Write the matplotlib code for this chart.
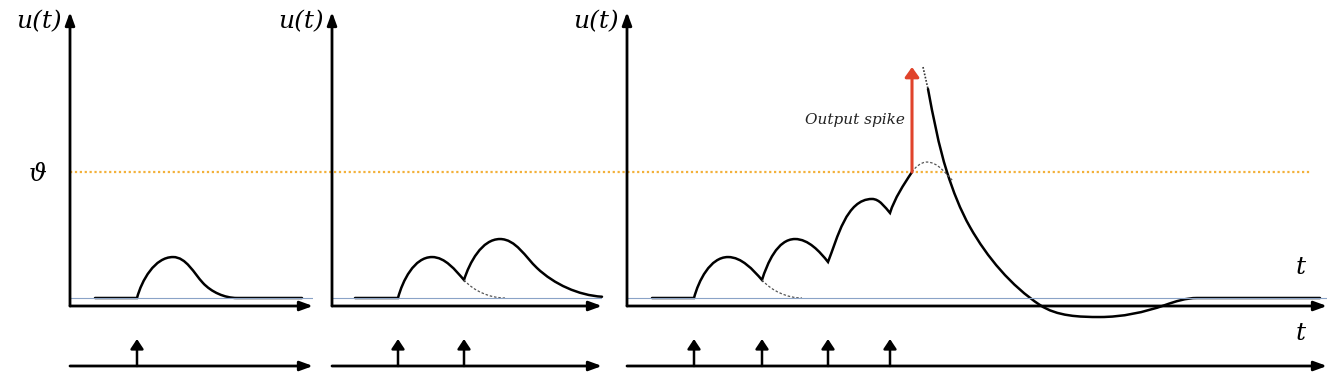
import numpy as np
import matplotlib
matplotlib.use('Agg')

import matplotlib.pyplot as plt
from matplotlib.path import Path
from matplotlib.patches import PathPatch

# input spike times (ms) for the three cases
spikes_1 = [6.7]
spikes_2 = [6.6, 13.2]
spikes_3 = [6.7, 13.5, 20.1, 26.3]
t_end = [24.3, 27.0, 70.0]

theta = 1.0        # firing threshold (u = 0 is resting potential)
spike_top = 1.833  # height drawn for the output spike

# membrane potential: pieces of (t, u, du/dt) knots,
# a new piece starts at every cusp (arrival of an input spike)
u_1 = [[(2.5, 0.0, 0.0), (6.7, 0.0, 0.0)],
       [(6.7, 0.0, 0.3), (10.3, 0.325, 0.0), (13.3, 0.119, -0.085),
        (16.7, 0.0, 0.0), (23.2, 0.0, 0.0)]]

u_2 = [[(2.3, 0.0, 0.0), (6.6, 0.0, 0.0)],
       [(6.6, 0.0, 0.3), (10.0, 0.325, 0.0), (13.2, 0.143, -0.09)],
       [(13.2, 0.143, 0.25), (16.8, 0.468, 0.0), (20.5, 0.238, -0.075),
        (27.0, 0.01, -0.005)]]
u_2_decay = [[(13.2, 0.143, -0.09), (17.3, 0.0, 0.0)]]

u_3 = [[(2.5, 0.0, 0.0), (6.7, 0.0, 0.0)],
       [(6.7, 0.0, 0.3), (10.1, 0.325, 0.0), (13.5, 0.143, -0.09)],
       [(13.5, 0.143, 0.25), (16.8, 0.468, 0.0), (20.1, 0.286, -0.1)],
       [(20.1, 0.286, 0.2), (24.5, 0.786, 0.0), (26.3, 0.675, -0.09)],
       [(26.3, 0.675, 0.25), (28.5, 1.0, 0.12)]]
u_3_reset = [[(30.1, 1.659, -0.42), (32.0, 1.0, -0.25), (34.3, 0.563, -0.14),
              (41.3, -0.056, -0.053), (47.3, -0.151, 0.0),
              (53.8, -0.056, 0.028), (57.0, 0.0, 0.0), (69.3, 0.0, 0.0)]]
u_3_decay = [[(13.5, 0.143, -0.09), (17.5, 0.0, 0.0)]]
u_3_noreset = [[(28.5, 1.0, 0.12), (30.0, 1.079, 0.0), (32.6, 0.929, -0.08)]]
u_3_jump_t = [29.6, 30.1]
u_3_jump_u = [1.833, 1.659]


def make_path(pieces, k):
    # cubic bezier through the knots, handles along the tangent in screen space
    # k = screen aspect (pixels per unit u / pixels per unit t)
    verts = [pieces[0][0][:2]]
    codes = [Path.MOVETO]
    for knots in pieces:
        for (t0, u0, m0), (t1, u1, m1) in zip(knots[:-1], knots[1:]):
            h = np.hypot(t1 - t0, (u1 - u0) * k) / 3
            d0 = h / np.hypot(1, m0 * k)
            d1 = h / np.hypot(1, m1 * k)
            verts += [(t0 + d0, u0 + m0 * d0), (t1 - d1, u1 - m1 * d1), (t1, u1)]
            codes += [Path.CURVE4] * 3
    return Path(verts, codes)


def curve(ax, pieces, **kw):
    p = ax.transData.transform([(0, 0), (1, 1)])
    k = (p[1, 1] - p[0, 1]) / (p[1, 0] - p[0, 0])
    ax.add_patch(PathPatch(make_path(pieces, k), fill=False, clip_on=False, **kw))


W, H = 1332, 378
fig = plt.figure(figsize=(W / 100, H / 100), dpi=100)
plt.rcParams['font.family'] = 'DejaVu Serif'

lefts = [70, 332, 627]
rights = [313, 602, 1327]
ylim = (-8 / 126, 286 / 126)
mem_y = ((H - 306) / H, (306 - 12) / H)
inp_y = ((H - 366) / H, 27 / H)

arrow_kw = dict(arrowstyle='-|>,head_length=0.55,head_width=0.2', mutation_scale=14,
                lw=2, color='black', shrinkA=0, shrinkB=0)
label_font = dict(fontsize=18, style='italic', family='DejaVu Serif')
solid = dict(lw=1.8, color='black', capstyle='round')
dashed = dict(lw=0.9, color='#555555', ls=(0, (2, 1.5)))

# threshold line across all panels
axt = fig.add_axes([70 / W, mem_y[0], (1310 - 70) / W, mem_y[1]])
axt.set_ylim(*ylim)
axt.axhline(theta, color='#f3b13a', lw=1.6, ls=(0, (1, 1.2)))
axt.axis('off')

all_spikes = [spikes_1, spikes_2, spikes_3]
for i in range(3):
    ax = fig.add_axes([lefts[i] / W, mem_y[0], (rights[i] - lefts[i]) / W, mem_y[1]])
    ax.set_xlim(0, t_end[i])
    ax.set_ylim(*ylim)
    ax.set_frame_on(False)
    ax.set_xticks([])
    if i == 0:
        ax.set_yticks([theta])
        ax.set_yticklabels(['ϑ'], **label_font)
        ax.tick_params(axis='y', length=0, pad=17)
    else:
        ax.set_yticks([])
    ax.axhline(0, color='#8aa3c7', lw=0.8)
    ax.annotate('', xy=(1, 0), xytext=(0, 0), xycoords='axes fraction',
                arrowprops=arrow_kw, annotation_clip=False)
    ax.annotate('', xy=(0, 1), xytext=(0, 0), xycoords='axes fraction',
                arrowprops=arrow_kw, annotation_clip=False)
    ax.annotate('u(t)', xy=(0, 1), xycoords='axes fraction', xytext=(-8, -10),
                textcoords='offset pixels', ha='right', va='center', **label_font)

    if i == 0:
        curve(ax, u_1, **solid)
    elif i == 1:
        curve(ax, u_2, **solid)
        curve(ax, u_2_decay, **dashed)
    else:
        curve(ax, u_3, **solid)
        curve(ax, u_3_reset, **solid)
        curve(ax, u_3_decay, **dashed)
        curve(ax, u_3_noreset, **dashed)
        ax.plot(u_3_jump_t, u_3_jump_u, color='#333333', lw=1.2, ls=(0, (1, 1)),
                clip_on=False)
        t_fire = u_3[-1][-1][0]
        ax.annotate('', xy=(t_fire, spike_top), xytext=(t_fire, theta),
                    arrowprops=dict(arrowstyle='-|>,head_length=0.42,head_width=0.3',
                                    mutation_scale=14, lw=2.2, color='#e0432b',
                                    shrinkA=0, shrinkB=0),
                    annotation_clip=False)
        ax.annotate('Output spike', xy=(t_fire, 1.413), xytext=(-7, 0),
                    textcoords='offset pixels', ha='right', va='center',
                    fontsize=11, style='italic', color='#222222')
        ax.annotate('t', xy=(1, 0), xycoords='axes fraction', xytext=(-26, 38),
                    textcoords='offset pixels', ha='center', va='center', **label_font)

    # input spike train below
    axi = fig.add_axes([lefts[i] / W, inp_y[0], (rights[i] - lefts[i]) / W, inp_y[1]])
    axi.set_xlim(0, t_end[i])
    axi.set_ylim(0, 1)
    axi.axis('off')
    axi.annotate('', xy=(1, 0), xytext=(0, 0), xycoords='axes fraction',
                 arrowprops=arrow_kw, annotation_clip=False)
    for s in all_spikes[i]:
        axi.annotate('', xy=(s, 1), xytext=(s, 0),
                     arrowprops=dict(arrowstyle='-|>,head_length=0.45,head_width=0.3',
                                     mutation_scale=13, lw=1.8, color='black',
                                     shrinkA=0, shrinkB=0),
                     annotation_clip=False)
    if i == 2:
        axi.annotate('t', xy=(1, 0), xycoords='axes fraction', xytext=(-26, 33),
                     textcoords='offset pixels', ha='center', va='center', **label_font)

fig.savefig('out.png', dpi=100)
